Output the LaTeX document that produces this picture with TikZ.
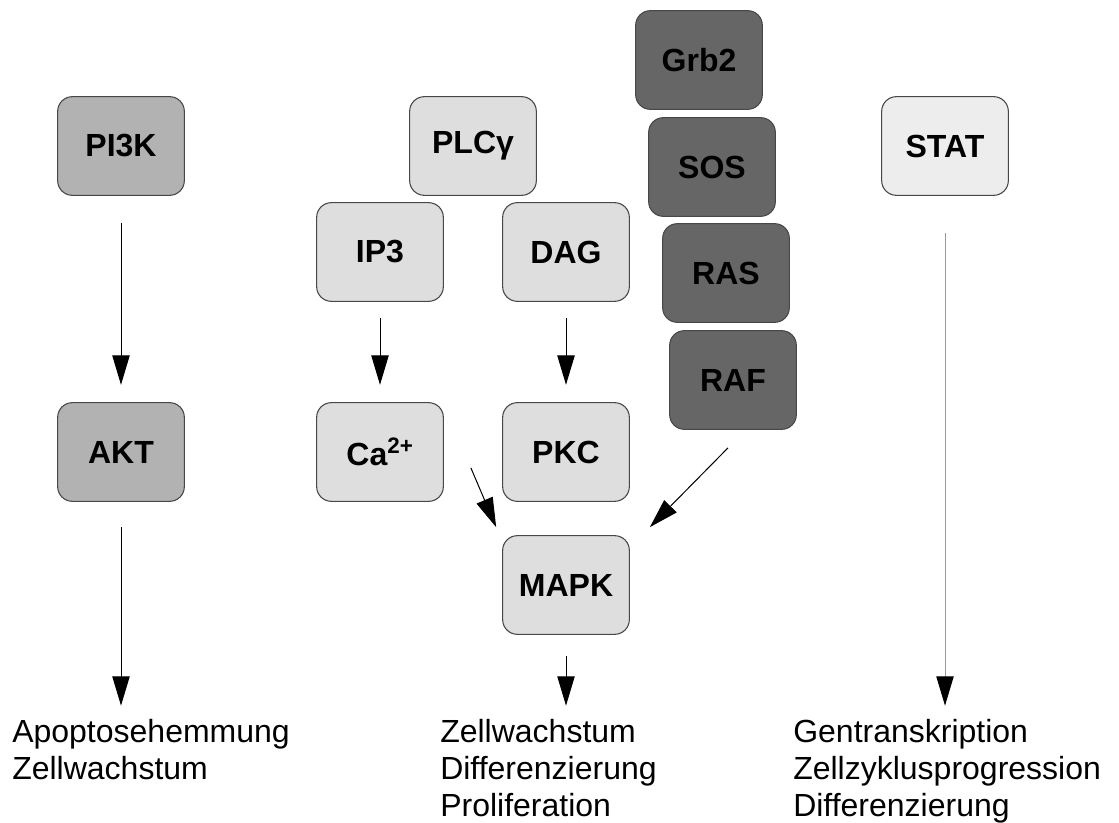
\documentclass[tikz,border=0pt]{standalone}
\usepackage{fontspec}
\setmainfont{Liberation Sans}
\usetikzlibrary{arrows.meta}

\begin{document}
\begin{tikzpicture}[x=0.75pt,y=-0.75pt,
  box/.style={draw=black!72, line width=0.8pt, rounded corners=11pt,
    minimum width=95pt, minimum height=74pt,
    font=\fontsize{24}{28}\selectfont\bfseries},
  mid/.style={box, fill=black!30},
  light/.style={box, fill=black!13},
  dark/.style={box, fill=black!60},
  pale/.style={box, fill=black!7},
  result/.style={anchor=north west, align=left, inner sep=0pt,
    font=\fontsize{24}{27.75}\selectfont},
  arr/.style={-{Triangle[length=22pt,width=13pt]}, line width=0.75pt}]
\useasboundingbox (0,0) rectangle (1119,823);

\node[mid] (pi3k) at (121,146) {PI3K};
\node[mid] (akt) at (121,452) {AKT};

\node[light] (plc) at (473,146) {PLCγ};
\node[light] (ip3) at (380,252) {IP3};
\node[light] (dag) at (566,252) {DAG};
\node[light] (ca) at (380,452) {Ca\textsuperscript{2+}};
\node[light] (pkc) at (566,452) {PKC};
\node[light] (mapk) at (566,585) {MAPK};

\node[dark] (grb2) at (699,60) {Grb2};
\node[dark] (sos) at (712,167) {SOS};
\node[dark] (ras) at (726,273) {RAS};
\node[dark] (raf) at (733,380) {RAF};

\node[pale] (stat) at (945,146) {STAT};

\node[result] (apop) at (12,719) {Apoptosehemmung\\Zellwachstum};
\node[result] (wachs) at (440,719) {Zellwachstum\\Differenzierung\\Proliferation};
\node[result] (gen) at (793,719) {Gentranskription\\Zellzyklusprogression\\Differenzierung};

\draw[arr, shorten <=20pt, shorten >=13pt] (pi3k) -- (akt);
\draw[arr, shorten <=19pt, shorten >=10pt] (akt.south) -- (akt.south |- apop.north);
\draw[arr, shorten <=12pt, shorten >=13pt] (ip3) -- (ca);
\draw[arr, shorten <=12pt, shorten >=13pt] (dag) -- (pkc);
\draw[arr] ([shift={(27,-34)}]ca.south east) -- ([shift={(-6,-8)}]mapk.north west);
\draw[arr] ([shift={(-5,18)}]raf.south) -- ([shift={(20,-8)}]mapk.north east);
\draw[arr, shorten <=16pt, shorten >=10pt] (mapk.south) -- (mapk.south |- wachs.north);
\draw[arr, draw=black!40, -{Triangle[length=22pt,width=13pt,color=black]},
  shorten <=28pt, shorten >=10pt] (stat.south) -- (stat.south |- gen.north);
\end{tikzpicture}
\end{document}
